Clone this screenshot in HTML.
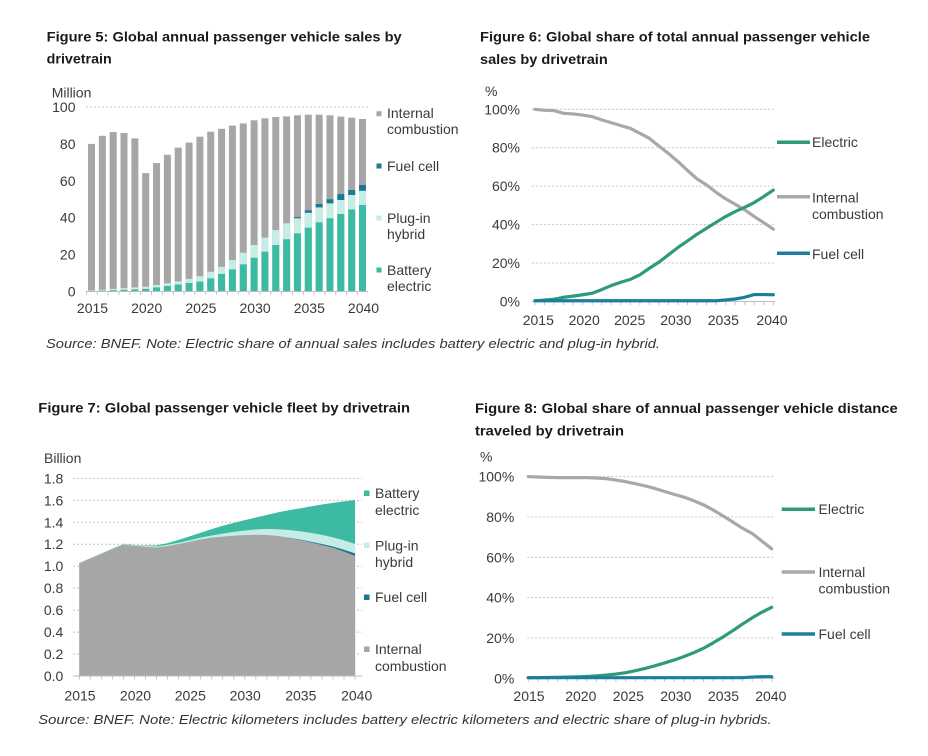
<!DOCTYPE html>
<html><head><meta charset="utf-8"><style>
html,body{margin:0;padding:0;background:#fff;}
svg{display:block;}
text{font-family:"Liberation Sans",Arial,sans-serif;}
.t{font-size:14px;font-weight:bold;fill:#1a1a1a;}
.s{font-size:12.5px;font-style:italic;fill:#333;}
.l{font-size:14px;fill:#3a3a3a;}
.r{text-anchor:end;}
.c{text-anchor:middle;}
.g{stroke:#c4c4c4;stroke-width:1;stroke-dasharray:2,2;fill:none;}
.ax{stroke:#bdbdbd;stroke-width:1;fill:none;}
.tk{stroke:#c4c4c4;stroke-width:3;fill:none;}
</style></head><body>
<svg width="928" height="756" viewBox="0 0 928 756" xmlns="http://www.w3.org/2000/svg">
<rect width="928" height="756" fill="#fff"/>

<!-- ===== Figure 5 ===== -->
<text class="t" x="46.7" y="41.3" textLength="355" lengthAdjust="spacingAndGlyphs">Figure 5: Global annual passenger vehicle sales by</text>
<text class="t" x="46.7" y="63.3" textLength="65" lengthAdjust="spacingAndGlyphs">drivetrain</text>
<text class="l" x="51.7" y="97.3">Million</text>
<line class="g" x1="86" y1="107" x2="368" y2="107"/>
<g class="l r">
<text x="75.5" y="112">100</text><text x="75.5" y="148.9">80</text><text x="75.5" y="185.8">60</text>
<text x="75.5" y="222.7">40</text><text x="75.5" y="259.6">20</text><text x="75.5" y="296.5">0</text>
</g>
<g fill="#a6a6a6">
<rect x="88" y="143.9" width="7" height="147.6"/><rect x="98.84" y="135.8" width="7" height="155.7"/>
<rect x="109.68" y="132.1" width="7" height="159.4"/><rect x="120.52" y="133" width="7" height="158.5"/>
<rect x="131.36" y="138.4" width="7" height="153.1"/><rect x="142.2" y="173.1" width="7" height="118.4"/>
<rect x="153.04" y="163.1" width="7" height="128.4"/><rect x="163.88" y="154.8" width="7" height="136.7"/>
<rect x="174.72" y="147.6" width="7" height="143.9"/><rect x="185.56" y="142.6" width="7" height="148.9"/>
<rect x="196.4" y="136.7" width="7" height="154.8"/><rect x="207.24" y="131.7" width="7" height="159.8"/>
<rect x="218.08" y="128.8" width="7" height="162.7"/><rect x="228.92" y="125.6" width="7" height="165.9"/>
<rect x="239.76" y="123.4" width="7" height="168.1"/><rect x="250.6" y="120.3" width="7" height="171.2"/>
<rect x="261.44" y="118.3" width="7" height="173.2"/><rect x="272.28" y="117" width="7" height="174.5"/>
<rect x="283.12" y="116.4" width="7" height="175.1"/><rect x="293.96" y="115.3" width="7" height="176.2"/>
<rect x="304.8" y="114.7" width="7" height="176.8"/><rect x="315.64" y="114.7" width="7" height="176.8"/>
<rect x="326.48" y="115.3" width="7" height="176.2"/><rect x="337.32" y="116.6" width="7" height="174.9"/>
<rect x="348.16" y="117.7" width="7" height="173.8"/><rect x="359" y="119" width="7" height="172.5"/>
</g>
<g fill="#c6ece6">
<rect x="88" y="290.39" width="7" height="1.11"/><rect x="98.84" y="289.65" width="7" height="1.85"/>
<rect x="109.68" y="288.92" width="7" height="2.58"/><rect x="120.52" y="288.18" width="7" height="3.32"/>
<rect x="131.36" y="287.44" width="7" height="4.06"/><rect x="142.2" y="286.7" width="7" height="4.8"/>
<rect x="153.04" y="285.04" width="7" height="6.46"/><rect x="163.88" y="283.2" width="7" height="8.3"/>
<rect x="174.72" y="281.35" width="7" height="10.15"/><rect x="185.56" y="278.95" width="7" height="12.55"/>
<rect x="196.4" y="276.19" width="7" height="15.31"/><rect x="207.24" y="271.76" width="7" height="19.74"/>
<rect x="218.08" y="266.78" width="7" height="24.72"/><rect x="228.92" y="260.13" width="7" height="31.37"/>
<rect x="239.76" y="252.75" width="7" height="38.75"/><rect x="250.6" y="245.01" width="7" height="46.49"/>
<rect x="261.44" y="237.63" width="7" height="53.87"/><rect x="272.28" y="230.06" width="7" height="61.44"/>
<rect x="283.12" y="223.23" width="7" height="68.27"/><rect x="293.96" y="218.25" width="7" height="73.25"/>
<rect x="304.8" y="212.72" width="7" height="78.78"/><rect x="315.64" y="207.37" width="7" height="84.13"/>
<rect x="326.48" y="203.31" width="7" height="88.19"/><rect x="337.32" y="199.99" width="7" height="91.51"/>
<rect x="348.16" y="195.01" width="7" height="96.49"/><rect x="359" y="190.76" width="7" height="100.74"/>
</g>
<g fill="#3dbaa2">
<rect x="88" y="290.95" width="7" height="0.55"/><rect x="98.84" y="290.58" width="7" height="0.92"/>
<rect x="109.68" y="290.2" width="7" height="1.3"/><rect x="120.52" y="289.84" width="7" height="1.66"/>
<rect x="131.36" y="289.47" width="7" height="2.03"/><rect x="142.2" y="288.92" width="7" height="2.58"/>
<rect x="153.04" y="287.44" width="7" height="4.06"/><rect x="163.88" y="285.96" width="7" height="5.54"/>
<rect x="174.72" y="284.49" width="7" height="7.01"/><rect x="185.56" y="283.01" width="7" height="8.49"/>
<rect x="196.4" y="281.54" width="7" height="9.96"/><rect x="207.24" y="278.4" width="7" height="13.1"/>
<rect x="218.08" y="273.97" width="7" height="17.53"/><rect x="228.92" y="269.36" width="7" height="22.14"/>
<rect x="239.76" y="264.38" width="7" height="27.12"/><rect x="250.6" y="257.74" width="7" height="33.76"/>
<rect x="261.44" y="251.65" width="7" height="39.85"/><rect x="272.28" y="245.01" width="7" height="46.49"/>
<rect x="283.12" y="239.29" width="7" height="52.21"/><rect x="293.96" y="233.38" width="7" height="58.12"/>
<rect x="304.8" y="227.66" width="7" height="63.84"/><rect x="315.64" y="222.31" width="7" height="69.19"/>
<rect x="326.48" y="218.25" width="7" height="73.25"/><rect x="337.32" y="214.01" width="7" height="77.49"/>
<rect x="348.16" y="209.4" width="7" height="82.1"/><rect x="359" y="204.97" width="7" height="86.53"/>
</g>
<g fill="#1b7896">
<rect x="293.96" y="217.15" width="7" height="1.1"/><rect x="304.8" y="210.32" width="7" height="2.4"/>
<rect x="315.64" y="204.05" width="7" height="3.32"/><rect x="326.48" y="199.25" width="7" height="4.06"/>
<rect x="337.32" y="194.08" width="7" height="5.91"/><rect x="348.16" y="190.02" width="7" height="4.99"/>
<rect x="359" y="185.04" width="7" height="5.72"/>
</g>
<line class="ax" x1="86" y1="291.5" x2="368" y2="291.5"/>
<line class="tk" x1="86" y1="293.5" x2="368" y2="293.5" stroke-dasharray="1 9.84"/>
<g class="l c">
<text x="92.5" y="313">2015</text><text x="146.7" y="313">2020</text><text x="200.9" y="313">2025</text>
<text x="255.1" y="313">2030</text><text x="309.3" y="313">2035</text><text x="363.5" y="313">2040</text>
</g>
<rect x="376.5" y="111.2" width="5" height="5" fill="#a6a6a6"/>
<rect x="376.5" y="163.5" width="5" height="5" fill="#1b7896"/>
<rect x="376.5" y="215.5" width="5" height="5" fill="#c6ece6"/>
<rect x="376.5" y="267.5" width="5" height="5" fill="#3dbaa2"/>
<g class="l">
<text x="387" y="118">Internal</text><text x="387" y="134">combustion</text>
<text x="387" y="171">Fuel cell</text>
<text x="387" y="223">Plug-in</text><text x="387" y="239">hybrid</text>
<text x="387" y="275">Battery</text><text x="387" y="291">electric</text>
</g>

<!-- ===== Figure 6 ===== -->
<text class="t" x="480" y="41.7" textLength="390" lengthAdjust="spacingAndGlyphs">Figure 6: Global share of total annual passenger vehicle</text>
<text class="t" x="480" y="64" textLength="127.7" lengthAdjust="spacingAndGlyphs">sales by drivetrain</text>
<text class="l" x="485" y="96">%</text>
<g class="g">
<line x1="531.7" y1="109.3" x2="775" y2="109.3"/><line x1="531.7" y1="147.74" x2="775" y2="147.74"/>
<line x1="531.7" y1="186.18" x2="775" y2="186.18"/><line x1="531.7" y1="224.62" x2="775" y2="224.62"/>
<line x1="531.7" y1="263.06" x2="775" y2="263.06"/>
</g>
<line class="ax" x1="531.7" y1="301.5" x2="775" y2="301.5"/>
<line class="tk" x1="534.5" y1="303.5" x2="774" y2="303.5" stroke-dasharray="1 8.532"/>
<g class="l r">
<text x="520" y="114.3">100%</text><text x="520" y="152.7">80%</text><text x="520" y="191.2">60%</text>
<text x="520" y="229.6">40%</text><text x="520" y="268">20%</text><text x="520" y="306.5">0%</text>
</g>
<g class="l c">
<text x="538.3" y="325">2015</text><text x="584.2" y="325">2020</text><text x="629.7" y="325">2025</text>
<text x="675.8" y="325">2030</text><text x="723.3" y="325">2035</text><text x="772" y="325">2040</text>
</g>
<g fill="none" stroke-width="3.2" stroke-linejoin="round" stroke-linecap="round">
<polyline stroke="#a8a8a8" points="535,109.3 544.53,110.26 554.06,110.64 563.6,113.34 573.13,113.91 582.66,115.07 592.19,116.6 601.72,119.87 611.26,122.75 620.79,125.64 630.32,128.33 639.85,133.33 649.38,138.32 658.92,146.01 668.45,153.51 677.98,161.58 687.51,170.42 697.04,178.88 706.58,184.83 716.11,192.33 725.64,198.87 735.17,204.25 744.7,209.82 754.24,216.55 763.77,222.7 773.3,229.23"/>
<polyline stroke="#2e9a7c" points="535,300.92 544.53,300.15 554.06,299.19 563.6,297.27 573.13,296.12 582.66,294.77 592.19,293.24 601.72,289.58 611.26,285.55 620.79,282.28 630.32,279.4 639.85,274.78 649.38,268.25 658.92,262.1 668.45,254.8 677.98,247.49 687.51,240.96 697.04,234.23 706.58,228.27 716.11,222.31 725.64,216.55 735.17,211.55 744.7,207.32 754.24,202.52 763.77,196.56 773.3,190.02"/>
<polyline stroke="#1b7ea1" points="535,300.73 716.11,300.73 725.64,299.96 735.17,299 744.7,297.27 754.24,294.58 763.77,294.58 773.3,294.77"/>
</g>
<g stroke-width="3.5">
<line x1="777" y1="142.3" x2="810" y2="142.3" stroke="#2e9a7c"/>
<line x1="777" y1="196.7" x2="810" y2="196.7" stroke="#a8a8a8"/>
<line x1="777" y1="253.3" x2="810" y2="253.3" stroke="#1b7ea1"/>
</g>
<g class="l">
<text x="812" y="147">Electric</text>
<text x="812" y="202.5">Internal</text><text x="812" y="219">combustion</text>
<text x="812" y="259">Fuel cell</text>
</g>

<text class="s" x="46" y="348" textLength="614" lengthAdjust="spacingAndGlyphs">Source: BNEF. Note: Electric share of annual sales includes battery electric and plug-in hybrid.</text>

<!-- ===== Figure 7 ===== -->
<text class="t" x="38.3" y="412.5" textLength="371.7" lengthAdjust="spacingAndGlyphs">Figure 7: Global passenger vehicle fleet by drivetrain</text>
<text class="l" x="44" y="463">Billion</text>
<g class="g">
<line x1="73" y1="478.36" x2="362" y2="478.36"/><line x1="73" y1="500.32" x2="362" y2="500.32"/>
<line x1="73" y1="522.28" x2="362" y2="522.28"/><line x1="73" y1="544.24" x2="362" y2="544.24"/>
<line x1="73" y1="566.2" x2="362" y2="566.2"/><line x1="73" y1="588.16" x2="362" y2="588.16"/>
<line x1="73" y1="610.12" x2="362" y2="610.12"/><line x1="73" y1="632.08" x2="362" y2="632.08"/>
<line x1="73" y1="654.04" x2="362" y2="654.04"/>
</g>
<polygon fill="#3dbaa2" points="79.3,562.91 90.33,558.07 101.36,553.35 112.39,548.63 123.42,543.69 134.45,545 145.48,545.34 156.51,545.34 167.54,543.14 178.57,539.85 189.6,536.33 200.63,532.71 211.66,529.09 222.69,525.79 233.72,522.83 244.75,520.08 255.78,517.56 266.81,515.03 277.84,512.4 288.87,510.2 299.9,508.33 310.93,506.36 321.96,504.49 332.99,502.85 344.02,501.42 355.05,499.99 355.05,676 79.3,676"/>
<polygon fill="#c6ece6" points="79.3,563.13 90.33,558.29 101.36,553.68 112.39,548.85 123.42,543.91 134.45,545.34 145.48,545.78 156.51,546.44 167.54,544.79 178.57,542.81 189.6,540.29 200.63,537.65 211.66,535.46 222.69,533.59 233.72,531.83 244.75,530.52 255.78,529.42 266.81,528.87 277.84,529.2 288.87,529.97 299.9,531.28 310.93,532.93 321.96,534.91 332.99,537.43 344.02,540.4 355.05,544.02 355.05,676 79.3,676"/>
<polygon fill="#1b7896" points="288.87,537.65 299.9,539.52 310.93,541.71 321.96,544.02 332.99,546.44 344.02,549.73 355.05,553.35 355.05,676 288.87,676"/>
<polygon fill="#a6a6a6" points="79.3,563.35 90.33,558.51 101.36,554.01 112.39,549.18 123.42,544.35 134.45,546 145.48,546.66 156.51,547.64 167.54,546 178.57,544.02 189.6,541.71 200.63,539.41 211.66,537.65 222.69,536.66 233.72,535.79 244.75,535.02 255.78,534.8 266.81,535.02 277.84,536.01 288.87,537.65 299.9,539.96 310.93,542.37 321.96,545.01 332.99,547.64 344.02,551.6 355.05,555.99 355.05,676 79.3,676"/>
<line class="ax" x1="73" y1="676" x2="362" y2="676"/>
<line class="tk" x1="78.8" y1="678" x2="356" y2="678" stroke-dasharray="1 10.03"/>
<g class="l r">
<text x="63.3" y="483.4">1.8</text><text x="63.3" y="505.3">1.6</text><text x="63.3" y="527.3">1.4</text>
<text x="63.3" y="549.2">1.2</text><text x="63.3" y="571.2">1.0</text><text x="63.3" y="593.2">0.8</text>
<text x="63.3" y="615.1">0.6</text><text x="63.3" y="637.1">0.4</text><text x="63.3" y="659">0.2</text>
<text x="63.3" y="681">0.0</text>
</g>
<g class="l c">
<text x="80" y="700.5">2015</text><text x="135.5" y="700.5">2020</text><text x="190.3" y="700.5">2025</text>
<text x="245.2" y="700.5">2030</text><text x="300.8" y="700.5">2035</text><text x="356.7" y="700.5">2040</text>
</g>
<rect x="364" y="490.5" width="5.5" height="5.5" fill="#3dbaa2"/>
<rect x="364" y="542.5" width="5.5" height="5.5" fill="#c6ece6"/>
<rect x="364" y="594.5" width="5.5" height="5.5" fill="#1b7896"/>
<rect x="364" y="646.5" width="5.5" height="5.5" fill="#a6a6a6"/>
<g class="l">
<text x="375" y="498">Battery</text><text x="375" y="515">electric</text>
<text x="375" y="550.5">Plug-in</text><text x="375" y="567">hybrid</text>
<text x="375" y="602">Fuel cell</text>
<text x="375" y="654">Internal</text><text x="375" y="671">combustion</text>
</g>

<!-- ===== Figure 8 ===== -->
<text class="t" x="475" y="413" textLength="422.7" lengthAdjust="spacingAndGlyphs">Figure 8: Global share of annual passenger vehicle distance</text>
<text class="t" x="475" y="435.7" textLength="149" lengthAdjust="spacingAndGlyphs">traveled by drivetrain</text>
<text class="l" x="480" y="461.5">%</text>
<g class="g">
<line x1="527.3" y1="476.6" x2="775" y2="476.6"/><line x1="527.3" y1="516.96" x2="775" y2="516.96"/>
<line x1="527.3" y1="557.28" x2="775" y2="557.28"/><line x1="527.3" y1="597.6" x2="775" y2="597.6"/>
<line x1="527.3" y1="637.92" x2="775" y2="637.92"/>
</g>
<line class="ax" x1="527.3" y1="678.3" x2="775" y2="678.3"/>
<line class="tk" x1="527.8" y1="680.3" x2="773" y2="680.3" stroke-dasharray="1 8.736"/>
<g class="l r">
<text x="514.3" y="481.6">100%</text><text x="514.3" y="522">80%</text><text x="514.3" y="562.3">60%</text>
<text x="514.3" y="602.6">40%</text><text x="514.3" y="642.9">20%</text><text x="514.3" y="683.3">0%</text>
</g>
<g class="l c">
<text x="529" y="701">2015</text><text x="580.8" y="701">2020</text><text x="628.3" y="701">2025</text>
<text x="675.8" y="701">2030</text><text x="723.5" y="701">2035</text><text x="770.8" y="701">2040</text>
</g>
<g fill="none" stroke-width="3.2" stroke-linejoin="round" stroke-linecap="round">
<polyline stroke="#a8a8a8" points="528.3,476.6 538.04,477 547.77,477.4 557.51,477.61 567.24,477.61 576.98,477.61 586.72,477.61 596.45,478.01 606.19,478.62 615.92,480.03 625.66,481.64 635.4,483.66 645.13,485.88 654.87,488.48 664.6,491.53 674.34,494.35 684.08,497.17 693.81,500.8 703.55,504.84 713.28,510.08 723.02,515.93 732.76,521.98 742.49,528.24 752.23,533.48 761.96,541.14 771.7,548.81"/>
<polyline stroke="#2e9a7c" points="528.3,677.7 538.04,677.7 547.77,677.49 557.51,677.29 567.24,677.09 576.98,676.89 586.72,676.48 596.45,675.88 606.19,675.07 615.92,674.06 625.66,672.65 635.4,670.64 645.13,668.42 654.87,665.79 664.6,662.97 674.34,659.95 684.08,656.52 693.81,652.68 703.55,648.25 713.28,642.8 723.02,636.95 732.76,630.7 742.49,624.04 752.23,617.79 761.96,612.14 771.7,607.3"/>
<polyline stroke="#1b7ea1" points="528.3,677.7 742.49,677.7 752.23,677.09 761.96,676.69 771.7,676.69"/>
</g>
<g stroke-width="3.5">
<line x1="781.7" y1="509.3" x2="815" y2="509.3" stroke="#2e9a7c"/>
<line x1="781.7" y1="572" x2="815" y2="572" stroke="#a8a8a8"/>
<line x1="781.7" y1="634" x2="815" y2="634" stroke="#1b7ea1"/>
</g>
<g class="l">
<text x="818.5" y="514">Electric</text>
<text x="818.5" y="577">Internal</text><text x="818.5" y="593.5">combustion</text>
<text x="818.5" y="639">Fuel cell</text>
</g>

<text class="s" x="38.3" y="724" textLength="733.4" lengthAdjust="spacingAndGlyphs">Source: BNEF. Note: Electric kilometers includes battery electric kilometers and electric share of plug-in hybrids.</text>
</svg>
</body></html>
